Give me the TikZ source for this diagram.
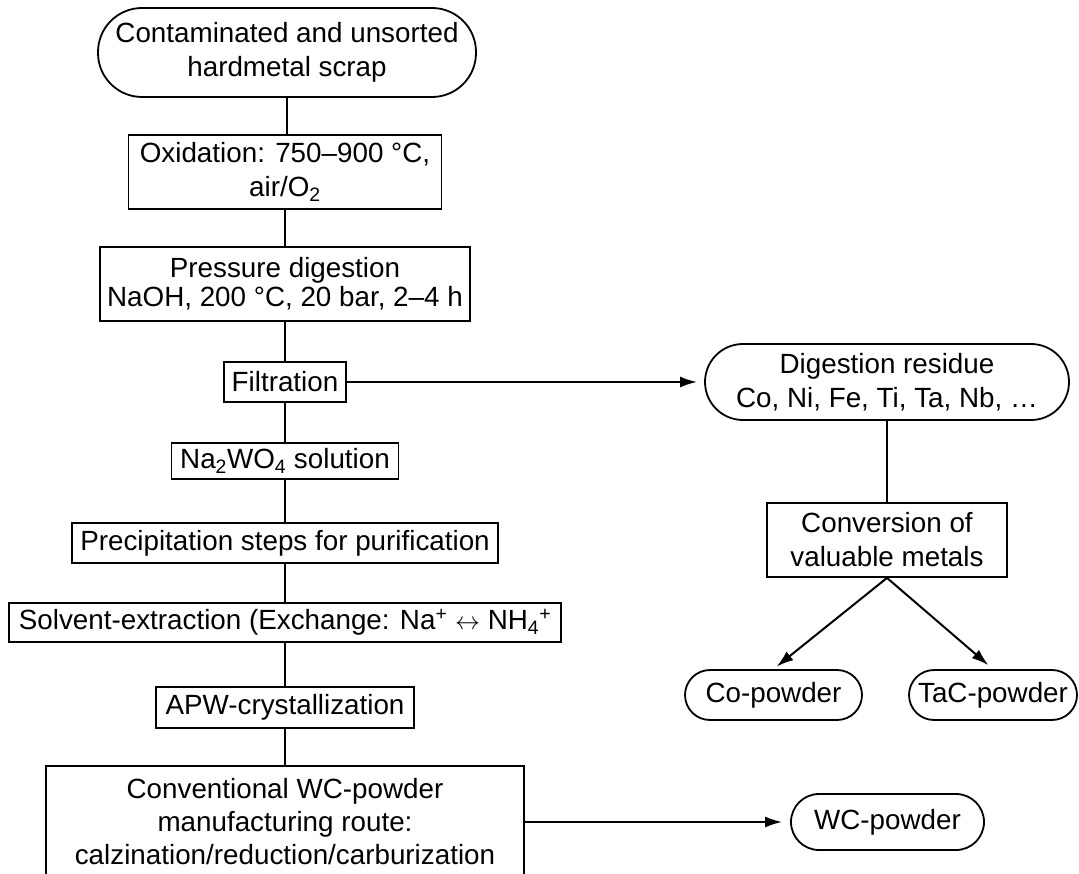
\documentclass[tikz,border=0pt]{standalone}
\usepackage{fontspec}
\setmainfont{Liberation Sans}
\usetikzlibrary{arrows.meta}
\begin{document}
\begin{tikzpicture}[x=1pt,y=-1pt,
  box/.style={draw,line width=1.8pt,rectangle,inner sep=0pt,align=center,font=\fontsize{27.8}{34}\selectfont},
  term/.style={box,rounded corners=#1},
  link/.style={line width=2pt},
  arr/.style={link,-{Latex[length=17pt,width=11pt]}}]
\useasboundingbox (0,0) rectangle (1079,874);
\clip (0,0) rectangle (1079,874);
% left column
\node[term=44pt,minimum width=378pt,minimum height=89pt] (scrap) at (287,52.5) {Contaminated and unsorted\\hardmetal scrap};
\node[box,minimum width=313pt,minimum height=74pt] (oxi) at (285,172) {Oxidation: 750–900 °C,\\air/O\textsubscript{2}};
\node[box,minimum width=370pt,minimum height=74pt,font=\fontsize{27.8}{29}\selectfont] (pres) at (285,284) {Pressure digestion\\NaOH, 200 °C, 20 bar, 2–4 h};
\node[box,minimum width=122pt,minimum height=40pt] (filt) at (285,382) {Filtration};
\node[box,minimum width=227pt,minimum height=36pt] (na) at (285,461) {Na\textsubscript{2}WO\textsubscript{4} solution};
\node[box,minimum width=426pt,minimum height=40pt] (prec) at (285,543) {Precipitation steps for purification};
\node[box,minimum width=552pt,minimum height=39pt] (solv) at (285,622.5) {Solvent-extraction (Exchange: Na\textsuperscript{+} $\leftrightarrow$ NH\textsubscript{4}\textsuperscript{+}};
\node[box,minimum width=258pt,minimum height=41pt] (apw) at (285,707.5) {APW-crystallization};
\node[box,minimum width=478pt,minimum height=112pt,font=\fontsize{27.8}{33}\selectfont] (conv) at (285,822) {Conventional WC-powder\\manufacturing route:\\calzination/reduction/carburization};
% right column
\node[term=38pt,minimum width=364pt,minimum height=76pt] (res) at (887,382) {Digestion residue\\Co, Ni, Fe, Ti, Ta, Nb, …};
\node[box,minimum width=240pt,minimum height=74pt] (valu) at (887,540) {Conversion of\\valuable metals};
\node[term=25pt,minimum width=177pt,minimum height=50pt] (co) at (773.5,695) {Co-powder};
\node[term=25pt,minimum width=168pt,minimum height=50pt] (tac) at (993,695) {TaC-powder};
\node[term=28pt,minimum width=193pt,minimum height=56pt] (wc) at (887.5,822) {WC-powder};
% connectors
\draw[link] (scrap.south) -- (scrap.south |- oxi.north);
\draw[link] (oxi) -- (pres);
\draw[link] (pres) -- (filt);
\draw[link] (filt) -- (na);
\draw[link] (na) -- (prec);
\draw[link] (prec) -- (solv);
\draw[link] (solv) -- (apw);
\draw[link] (apw) -- (conv);
\draw[arr,shorten >=7pt] (filt.east) -- (res.west);
\draw[link] (res) -- (valu);
\draw[arr,shorten >=4pt] (valu.south) -- (co.north);
\draw[arr,shorten >=6pt] (valu.south) -- (tac.north);
\draw[arr,shorten >=8pt] (conv.east) -- (wc.west);
\end{tikzpicture}
\end{document}
